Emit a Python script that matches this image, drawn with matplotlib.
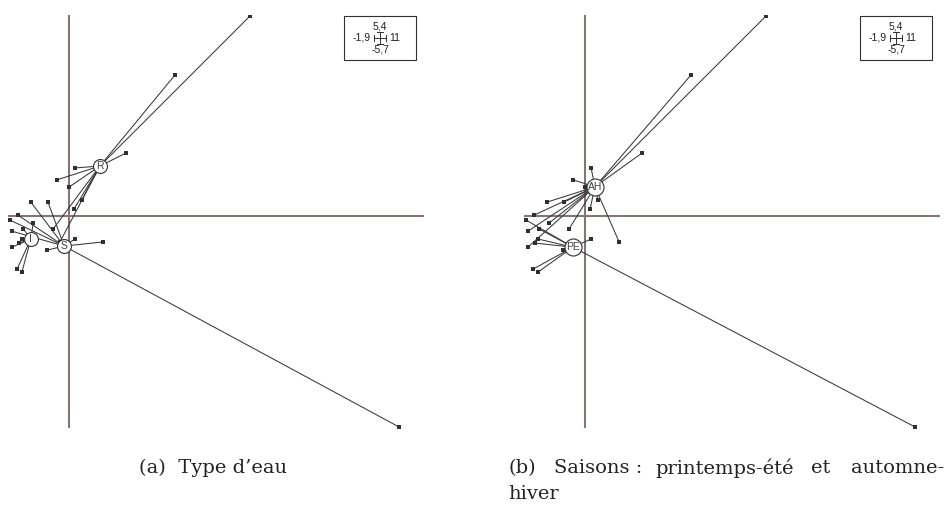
import matplotlib
matplotlib.use("Agg")
import matplotlib.pyplot as plt
from matplotlib.lines import Line2D
from matplotlib.patches import Rectangle

# ---- data (PCA scores) ----
pt_x = [5.60, 3.28, 1.76, 0.18, -0.38, 0.00, 0.39, 0.15, -1.19, -0.66,
        -0.50, -1.59, -1.84, -1.12, -1.43, -1.78, -1.47, -1.56, -1.78, -1.62,
        -1.47, 0.18, 1.05, -0.69, 10.22, -0.29]
pt_y = [5.37, 3.79, 1.69, 1.29, 0.97, 0.78, 0.43, 0.19, 0.37, 0.37,
        -0.35, 0.02, -0.11, -0.19, -0.35, -0.41, -0.62, -0.73, -0.84, -1.43,
        -1.51, -0.62, -0.70, -0.92, -5.67, -0.70]

# group of each point, panel (a) water type and panel (b) season
grp_eau = ["R", "R", "R", "R", "R", "R", "R", "R", "S", "S",
           "R", "S", "S", "I", "I", "S", "I", "I", "I", "I",
           "I", "S", "S", "S", "S", "R"]
grp_saison = ["AH", "AH", "AH", "AH", "AH", "AH", "AH", "AH", "AH", "AH",
              "AH", "AH", "PE", "AH", "PE", "AH", "PE", "PE", "AH", "PE",
              "PE", "PE", "AH", "PE", "PE", "PE"]

# class centres
cent_eau = {"R": (0.95, 1.34), "I": (-1.19, -0.62), "S": (-0.16, -0.81)}
cent_saison = {"AH": (0.30, 0.78), "PE": (-0.38, -0.84)}

lim_x = (-1.9, 11)
lim_y = (-5.7, 5.4)
leg_labels = ["5,4", "-1,9", "11", "-5,7"]

caption_a = "(a)  Type d\u2019eau"
caption_b_words = ["(b)", "Saisons :", "printemps-\u00e9t\u00e9", "et", "automne-"]
caption_b_line2 = "hiver"

W, H = 949, 513
fig = plt.figure(figsize=(W / 100, H / 100), dpi=100)

def fx(px):
    return px / W

def fy(py):
    return 1 - py / H

axis_col = "#857574"
line_col = "#383838"

def panel(x0, groups, centres, csize, fsize):
    ax = fig.add_axes([fx(x0), fy(428), fx(416), 413 / H])
    ax.set_xlim(*lim_x)
    ax.set_ylim(*lim_y)
    ax.axis("off")
    ax.axhline(0, color=axis_col, lw=1.5, zorder=1)
    ax.axvline(0, color=axis_col, lw=1.5, zorder=1)
    for x, y, g in zip(pt_x, pt_y, groups):
        cx, cy = centres[g]
        ax.plot([cx, x], [cy, y], color=line_col, lw=0.75, zorder=2)
    ax.scatter(pt_x, pt_y, marker="s", s=5, color="#303030", zorder=3,
               linewidths=0)
    for name, (cx, cy) in centres.items():
        ax.scatter([cx], [cy], s=csize, facecolor="white", edgecolor="#303030",
                   linewidths=0.8, zorder=4)
        ax.text(cx, cy, name, ha="center", va="center", fontsize=fsize,
                color="#404040", zorder=5, family="Liberation Sans")
    return ax

def legend_box(x0):
    # x0: left pixel of the box
    fig.add_artist(Rectangle((fx(x0), fy(60)), fx(72), 44 / H,
                             transform=fig.transFigure, fill=False,
                             edgecolor="#303030", lw=0.8))
    cx, cy = x0 + 36, 38
    kw = dict(fontsize=7.5, color="#202020", family="Liberation Sans",
              transform=fig.transFigure)
    fig.text(fx(cx), fy(cy - 11), leg_labels[0], ha="center", va="center", **kw)
    fig.text(fx(cx - 9), fy(cy), leg_labels[1], ha="right", va="center", **kw)
    fig.text(fx(cx + 9), fy(cy), leg_labels[2], ha="left", va="center", **kw)
    fig.text(fx(cx), fy(cy + 11), leg_labels[3], ha="center", va="center", **kw)
    segs = [((cx - 6, cx + 6), (cy, cy)), ((cx, cx), (cy - 6, cy + 6)),
            ((cx - 6, cx - 6), (cy - 3, cy + 3)), ((cx + 6, cx + 6), (cy - 3, cy + 3)),
            ((cx - 3, cx + 3), (cy - 6, cy - 6)), ((cx - 3, cx + 3), (cy + 6, cy + 6))]
    for xs, ys in segs:
        fig.add_artist(Line2D([fx(v) for v in xs], [fy(v) for v in ys],
                              transform=fig.transFigure, color="#303030", lw=0.7))

panel(8, grp_eau, cent_eau, 100, 7.5)
panel(524, grp_saison, cent_saison, 150, 7.5)
legend_box(344)
legend_box(860)

cap_kw = dict(fontsize=14, family="DejaVu Serif", color="#222222",
              va="center", transform=fig.transFigure)
fig.text(fx(139), fy(468), caption_a, ha="left", **cap_kw)
xs_b = [508, 554, 655, 811, 851]
for word, xp in zip(caption_b_words, xs_b):
    fig.text(fx(xp), fy(468), word, ha="left", **cap_kw)
fig.text(fx(508), fy(494), caption_b_line2, ha="left", **cap_kw)

fig.savefig("out.png", dpi=100)
